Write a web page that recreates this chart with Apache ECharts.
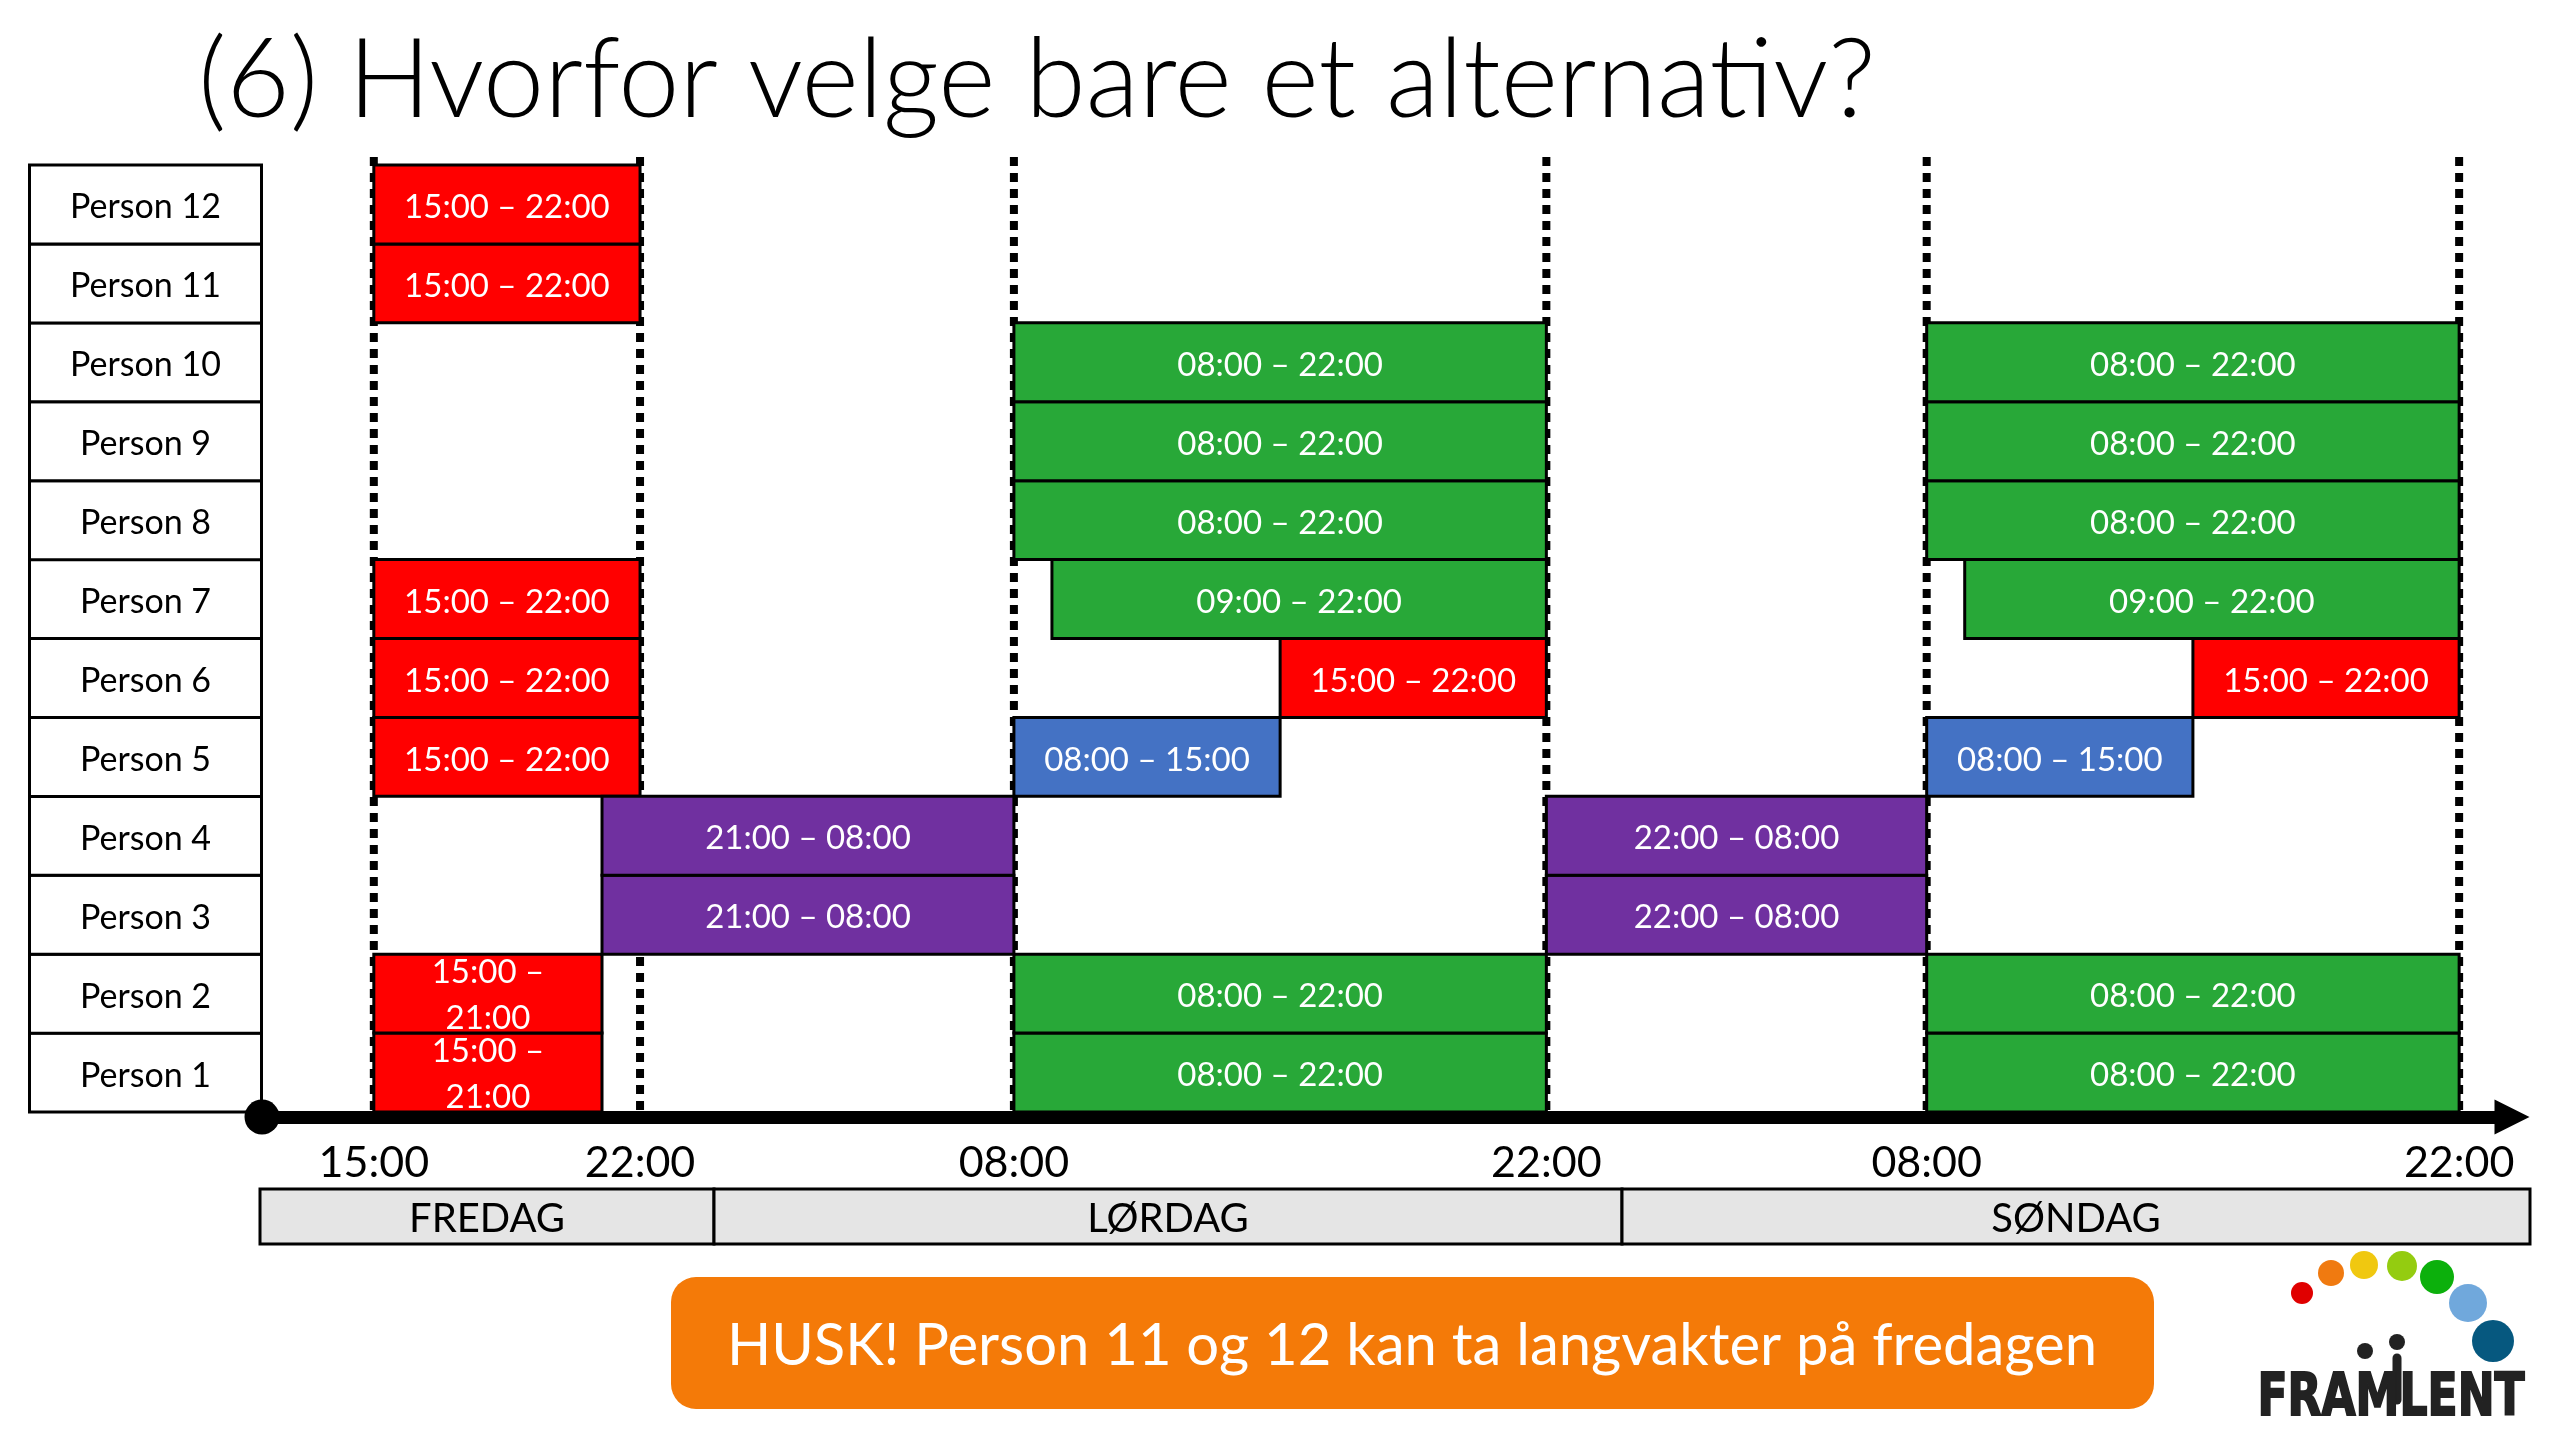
<!DOCTYPE html>
<html>
<head>
<meta charset="utf-8">
<title>Vaktplan</title>
<script src="https://cdn.jsdelivr.net/npm/echarts@6/dist/echarts.min.js"></script>
<style>
html, body { margin: 0; background: #fff; }
#chart { width: 2560px; height: 1440px; }
</style>
</head>
<body>
<div id="chart"></div>
<script>
// hours counted from friday 15:00
var persons = ['Person 1', 'Person 2', 'Person 3', 'Person 4', 'Person 5', 'Person 6',
  'Person 7', 'Person 8', 'Person 9', 'Person 10', 'Person 11', 'Person 12'];

// [person index, start, end]
var redShifts = [[0, 0, 6], [1, 0, 6], [4, 0, 7], [5, 0, 7], [6, 0, 7], [10, 0, 7], [11, 0, 7],
  [5, 24, 31], [5, 48, 55]];
var greenShifts = [[0, 17, 31], [1, 17, 31], [7, 17, 31], [8, 17, 31], [9, 17, 31], [6, 18, 31],
  [0, 41, 55], [1, 41, 55], [7, 41, 55], [8, 41, 55], [9, 41, 55], [6, 42, 55]];
var blueShifts = [[4, 17, 24], [4, 41, 48]];
var purpleShifts = [[2, 6, 17], [3, 6, 17], [2, 31, 41], [3, 31, 41]];

var tickHours = [0, 7, 17, 31, 41, 55];
var tickLabels = ['15:00', '22:00', '08:00', '22:00', '08:00', '22:00'];
var dayNames = ['FREDAG', 'LØRDAG', 'SØNDAG'];
var dayStarts = [-3, 9, 33];
var dayEnds = [9, 33, 57];

var titleText = '(6) Hvorfor velge bare et alternativ?';
var noteText = 'HUSK! Person 11 og 12 kan ta langvakter på fredagen';

var FONT = 'Lato';

// the friday block sits a little to the right of a true time scale in the slide
var fridayShift = 0.17;
function slideHour(h) {
  return h < 8 ? h + fridayShift : h;
}

function clock(h) {
  var hour = (15 + h) % 24;
  return (hour < 10 ? '0' : '') + hour + ':00';
}

function renderShift(params, api) {
  var from = api.coord([slideHour(api.value(1)), api.value(0)]);
  var to = api.coord([slideHour(api.value(2)), api.value(0)]);
  var h = api.size([0, 1])[1];
  var w = to[0] - from[0];
  var label = clock(api.value(1)) + ' – ' + clock(api.value(2));
  var narrow = w < 240;
  if (narrow) {
    label = clock(api.value(1)) + ' –\n' + clock(api.value(2));
  }
  return {
    type: 'group',
    children: [{
      type: 'rect',
      shape: { x: from[0], y: from[1] - h / 2, width: w, height: h },
      style: { fill: api.visual('color'), stroke: '#000', lineWidth: 3 }
    }, {
      type: 'text',
      z2: 5,
      style: {
        x: from[0] + w / 2,
        y: from[1] + (narrow ? 2 : 3),
        text: label,
        fill: '#fff',
        font: '33px ' + FONT,
        lineHeight: 46,
        align: 'center',
        verticalAlign: 'middle'
      }
    }]
  };
}

function shiftSeries(name, color, rows) {
  return {
    name: name,
    type: 'custom',
    xAxisIndex: 0,
    yAxisIndex: 0,
    z: 5,
    clip: false,
    itemStyle: { color: color },
    encode: { x: [1, 2], y: 0 },
    data: rows,
    renderItem: renderShift
  };
}

var chart = echarts.init(document.getElementById('chart'));

chart.setOption({
  backgroundColor: '#fff',
  animation: false,
  grid: [
    { left: 262, top: 165, width: 2250, height: 947 },
    { left: 260, top: 1189, width: 2270, height: 55 }
  ],
  xAxis: [{
    gridIndex: 0,
    type: 'value',
    min: -2.77,
    max: 56.39,
    offset: 5,
    splitLine: { show: false },
    axisTick: { show: false },
    axisLine: {
      show: true,
      onZero: false,
      symbol: ['circle', 'triangle'],
      symbolSize: [35, 35],
      lineStyle: { color: '#000', width: 13 }
    },
    axisLabel: {
      customValues: tickHours.map(slideHour),
      formatter: function (v) { return tickLabels[tickHours.map(slideHour).indexOf(v)]; },
      color: '#000',
      fontFamily: FONT,
      fontSize: 43,
      margin: 25
    }
  }, {
    gridIndex: 1,
    type: 'value',
    min: -3,
    max: 57,
    show: false
  }],
  yAxis: [{
    gridIndex: 0,
    type: 'category',
    data: persons,
    splitLine: { show: false },
    axisTick: { show: false },
    axisLine: { show: false },
    axisLabel: {
      margin: 2,
      interval: 0,
      formatter: function (v) { return '{box|' + v + '}'; },
      rich: {
        box: {
          width: 229,
          height: 70,
          padding: [6, 0, 0, 0],
          align: 'center',
          verticalAlign: 'middle',
          backgroundColor: '#fff',
          borderColor: '#000',
          borderWidth: 3,
          color: '#000',
          fontFamily: FONT,
          fontSize: 34
        }
      }
    }
  }, {
    gridIndex: 1,
    type: 'category',
    data: ['dag'],
    show: false
  }],
  series: [{
    name: 'skille',
    type: 'custom',
    xAxisIndex: 0,
    yAxisIndex: 0,
    z: 1,
    clip: false,
    encode: { x: 0 },
    data: tickHours.map(function (h) { return [slideHour(h)]; }),
    renderItem: function (params, api) {
      var x = api.coord([api.value(0), 0])[0];
      var top = params.coordSys.y;
      return {
        type: 'line',
        shape: { x1: x, y1: top - 8, x2: x, y2: top + params.coordSys.height },
        style: { stroke: '#000', lineWidth: 8, lineDash: [9, 7] }
      };
    }
  },
  shiftSeries('rød', '#ff0000', redShifts),
  shiftSeries('grønn', '#28a838', greenShifts),
  shiftSeries('blå', '#4472c4', blueShifts),
  shiftSeries('lilla', '#7030a0', purpleShifts),
  {
    name: 'dager',
    type: 'custom',
    xAxisIndex: 1,
    yAxisIndex: 1,
    encode: { x: [1, 2], y: 0 },
    data: dayNames.map(function (d, i) { return [0, dayStarts[i], dayEnds[i], d]; }),
    renderItem: function (params, api) {
      var from = api.coord([api.value(1), 0]);
      var to = api.coord([api.value(2), 0]);
      var h = api.size([0, 1])[1];
      return {
        type: 'group',
        children: [{
          type: 'rect',
          shape: { x: from[0], y: from[1] - h / 2, width: to[0] - from[0], height: h },
          style: { fill: '#e5e5e5', stroke: '#000', lineWidth: 3 }
        }, {
          type: 'text',
          style: {
            x: (from[0] + to[0]) / 2,
            y: from[1] + 3,
            text: dayNames[params.dataIndex],
            fill: '#000',
            font: '40px ' + FONT,
            align: 'center',
            verticalAlign: 'middle'
          }
        }]
      };
    }
  }],
  graphic: [
    // tittel
    { type: 'text', left: 198, top: 27, style: { text: titleText, fill: '#000', font: '300 109.7px ' + FONT } },
    // huskelapp
    {
      type: 'rect',
      shape: { x: 671, y: 1277, width: 1483, height: 132, r: 25 },
      style: { fill: '#f47a08' }
    },
    {
      type: 'text',
      style: { x: 1412, y: 1346, text: noteText, fill: '#fff', font: '58px ' + FONT, align: 'center', verticalAlign: 'middle' }
    },
    // logo
    { type: 'circle', shape: { cx: 2302, cy: 1293, r: 11 }, style: { fill: '#e00000' } },
    { type: 'circle', shape: { cx: 2331, cy: 1273, r: 13 }, style: { fill: '#f07a10' } },
    { type: 'circle', shape: { cx: 2364, cy: 1265, r: 14 }, style: { fill: '#f0c810' } },
    { type: 'circle', shape: { cx: 2402, cy: 1266, r: 15 }, style: { fill: '#94cc10' } },
    { type: 'circle', shape: { cx: 2437, cy: 1277, r: 17 }, style: { fill: '#0cb00c' } },
    { type: 'circle', shape: { cx: 2468, cy: 1303, r: 19 }, style: { fill: '#70a8dc' } },
    { type: 'circle', shape: { cx: 2493, cy: 1341, r: 21 }, style: { fill: '#06587f' } },
    { type: 'circle', shape: { cx: 2365, cy: 1351, r: 8 }, style: { fill: '#222' } },
    { type: 'circle', shape: { cx: 2397, cy: 1342, r: 8 }, style: { fill: '#222' } },
    { type: 'line', shape: { x1: 2397, y1: 1358, x2: 2397, y2: 1400 }, style: { stroke: '#222', lineWidth: 9, lineCap: 'round' } },
    {
      type: 'text',
      x: 2391,
      y: 1400,
      scaleX: 0.76,
      style: { x: 0, y: 0, text: 'FRAMLENT', fill: '#222', stroke: '#222', lineWidth: 2, font: 'bold 58px "DejaVu Sans"', align: 'center', verticalAlign: 'middle' }
    }
  ]
});
</script>
</body>
</html>
